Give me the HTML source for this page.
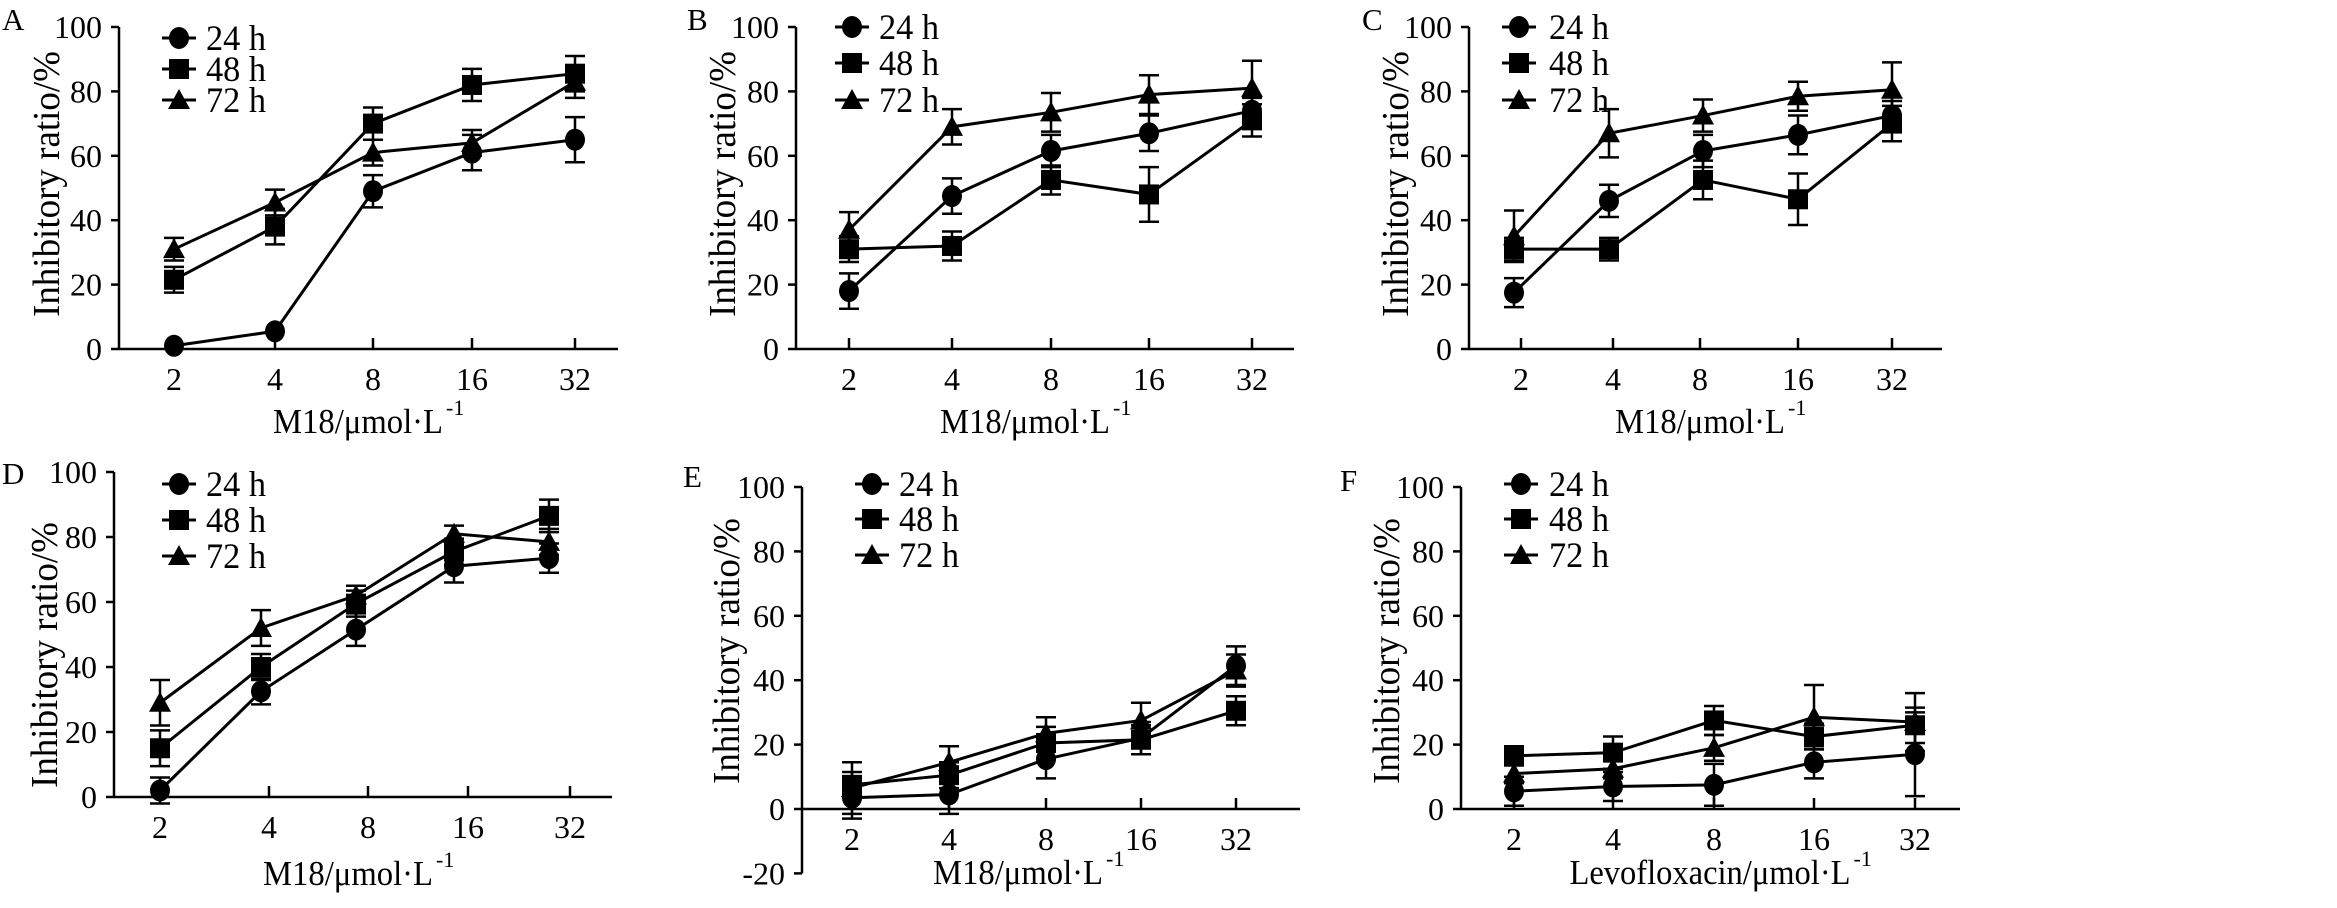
<!DOCTYPE html>
<html><head><meta charset="utf-8"><style>
html,body{margin:0;padding:0;background:#fff;}
svg, svg text{font-family:"Liberation Serif","Times New Roman","DejaVu Serif",serif;}
</style></head><body>
<svg id="fig" width="2337" height="903" viewBox="0 0 2337 903" xmlns="http://www.w3.org/2000/svg" font-family="Liberation Serif, serif"></svg>
<script>
const categories = ["2","4","8","16","32"];
const seriesNames = ["24 h","48 h","72 h"];
const yTicksMain = [0,20,40,60,80,100];
const yTicksE = [-20,0,20,40,60,80,100];

const A24 = [1,5.5,49,61,65],      A24e = [0,0,5,5.5,7];
const A48 = [21.5,38,70,82,85.5],  A48e = [4,5.5,5,5,5.5];
const A72 = [31,45.5,61,64,83],    A72e = [3.5,4,4,4,5];
const B24 = [18,47.5,61.5,67,74],  B24e = [5.5,5.5,5,5.5,4];
const B48 = [31,32,52.5,48,71],    B48e = [4,4.5,4.5,8.5,5];
const B72 = [37,69,73.5,79,81],    B72e = [5.5,5.5,6,6,8.5];
const C24 = [17.5,46,61.5,66.5,72.5], C24e = [4.5,5,5,6,4.5];
const C48 = [31,31,52.5,46.5,70],  C48e = [3.5,3.5,6,8,5.5];
const C72 = [35,67,72.5,78.5,80.5], C72e = [8,7.5,5,4.5,8.5];
const D24 = [2,32.5,51.5,71,73.5], D24e = [4,4,5,5,4.5];
const D48 = [15,40,59.5,75.5,86.5], D48e = [5.5,4,4,4,5];
const D72 = [29,52,62,81,78.5],    D72e = [7,5.5,3,2.5,4];
const E24 = [3.5,4.5,15.5,22,44.5], E24e = [6.5,6,6,5,6];
const E48 = [7.5,10.5,20.5,21.5,30.5], E48e = [4,4,5,4.5,4.5];
const E72 = [6.5,14.5,23.5,27.5,43], E72e = [8,5,5,5.5,5];
const F24 = [5.5,7,7.5,14.5,17],   F24e = [4.5,4.5,6.5,5,13];
const F48 = [16.5,17.5,27.5,22.5,26], F48e = [3,5,4.5,4,5.5];
const F72 = [11,12.5,19,28.5,27],  F72e = [3,3,4,10,9];

const NS="http://www.w3.org/2000/svg";
const FONT="Liberation Serif, Times New Roman, DejaVu Serif, serif";
const svg=document.getElementById('fig');
function mk(tag,attrs,parent){const e=document.createElementNS(NS,tag);for(const k in attrs)e.setAttribute(k,attrs[k]);if(tag==='text')e.setAttribute('font-family',FONT);(parent||svg).appendChild(e);return e;}

const panels=[
 {id:"a",label:"A",lx:2,ly:30,ax:119,x1:618,y0:349,y100:27,ymin:0,ticks:yTicksMain,cx:[174,275,373,472,575],px:[174,275,373,472,575],
  leg:{mx:179,tx:206,ys:[38,69,100]},title:"M18/μmol·L",tx:358,tyb:433,tw:170,ytx:47,yty:184,data:[[A24,A24e],[A48,A48e],[A72,A72e]]},
 {id:"b",label:"B",lx:687,ly:30,ax:796,x1:1294,y0:349,y100:27,ymin:0,ticks:yTicksMain,cx:[849,952,1051,1149,1252],px:[849,952,1051,1149,1252],
  leg:{mx:852,tx:879,ys:[27,63,100]},title:"M18/μmol·L",tx:1025,tyb:433,tw:170,ytx:723,yty:184,data:[[B24,B24e],[B48,B48e],[B72,B72e]]},
 {id:"c",label:"C",lx:1362,ly:30,ax:1469,x1:1942,y0:349,y100:27,ymin:0,ticks:yTicksMain,cx:[1521,1613,1700,1798,1892],px:[1514,1609,1703,1798,1892],
  leg:{mx:1519,tx:1549,ys:[27,63,100]},title:"M18/μmol·L",tx:1700,tyb:433,tw:170,ytx:1396,yty:184,data:[[C24,C24e],[C48,C48e],[C72,C72e]]},
 {id:"d",label:"D",lx:2,ly:484,ax:114,x1:612,y0:797,y100:472,ymin:0,ticks:yTicksMain,cx:[160,269,368,468,570],px:[160,261,356,454,549],
  leg:{mx:179,tx:206,ys:[484,520,556]},title:"M18/μmol·L",tx:348,tyb:885,tw:170,ytx:45,yty:655,data:[[D24,D24e],[D48,D48e],[D72,D72e]]},
 {id:"e",label:"E",lx:683,ly:487,ax:802,x1:1300,y0:809,y100:487,ymin:-20,ticks:yTicksE,cx:[852,949,1046,1141,1236],px:[852,949,1046,1141,1236],
  leg:{mx:872,tx:899,ys:[484,519,555]},title:"M18/μmol·L",tx:1018,tyb:884,tw:170,ytx:727,yty:651,data:[[E24,E24e],[E48,E48e],[E72,E72e]]},
 {id:"f",label:"F",lx:1340,ly:491,ax:1461,x1:1960,y0:809,y100:487,ymin:0,ticks:yTicksMain,cx:[1514,1613,1714,1814,1915],px:[1514,1613,1714,1814,1915],
  leg:{mx:1521,tx:1549,ys:[484,519,555]},title:"Levofloxacin/μmol·L",tx:1710,tyb:884,tw:281,ytx:1387,yty:651,data:[[F24,F24e],[F48,F48e],[F72,F72e]]}
];

function marker(g,type,x,y){
  let e;
  if(type===0){e=mk('ellipse',{cx:x,cy:y,rx:10,ry:11,fill:'#000'},g);}
  else if(type===1){e=mk('rect',{x:x-10,y:y-10,width:20,height:20,fill:'#000'},g);}
  else {e=mk('polygon',{points:`${x},${y-11} ${x+11},${y+9} ${x-11},${y+9}`,fill:'#000'},g);}
  
  
}

panels.forEach(p=>{
  const g=mk('g',{});
  
  
  const unit=(p.y0-p.y100)/100;
  const ys=v=>p.y0-v*unit;
  const yBottom=ys(p.ymin);
  const lab=mk('text',{x:p.lx,y:p.ly,'font-size':31},g);lab.textContent=p.label;
  
  
  const yaxis=mk('line',{x1:p.ax,y1:p.y100,x2:p.ax,y2:yBottom,stroke:'#000','stroke-width':2.5},g);
  
  
  const xaxis=mk('line',{x1:p.ax,y1:p.y0,x2:p.x1,y2:p.y0,stroke:'#000','stroke-width':2.5},g);
  
  
  p.ticks.forEach(t=>{
    const y=ys(t);
    mk('line',{x1:p.ax-8,y1:y,x2:p.ax,y2:y,stroke:'#000','stroke-width':2.5},g);
    const tl=mk('text',{x:p.ax-17,y:y+11,'font-size':32,'text-anchor':'end'},g);
    tl.textContent=String(t);
    
    
  });
  categories.forEach((c,i)=>{
    const x=p.cx[i];
    mk('line',{x1:x,y1:p.y0-11,x2:x,y2:p.y0,stroke:'#000','stroke-width':2.5},g);
    const tl=mk('text',{x:x,y:p.y0+41,'font-size':32,'text-anchor':'middle'},g);
    tl.textContent=c;
    
    
  });
  const xt=mk('text',{x:p.tx-p.tw/2,y:p.tyb,'font-size':35,textLength:p.tw,lengthAdjust:'spacingAndGlyphs'},g);
  xt.textContent=p.title;
  
  
  const sup=mk('text',{x:p.tx+p.tw/2+3,y:p.tyb-18,'font-size':22},g);
  sup.textContent='-1';
  
  
  const yt=mk('text',{x:0,y:0,'font-size':38,'text-anchor':'middle',textLength:266,lengthAdjust:'spacingAndGlyphs',transform:`translate(${p.ytx+12},${p.yty}) rotate(-90)`},g);
  yt.textContent='Inhibitory ratio/%';
  
  
  p.data.forEach((sd,si)=>{
    const vals=sd[0],errs=sd[1];
    const sg=mk('g',{},g);
    
    
    const pts=vals.map((v,i)=>p.px[i]+','+ys(v)).join(' ');
    const pl=mk('polyline',{points:pts,fill:'none',stroke:'#000','stroke-width':3},sg);
    
    
    vals.forEach((v,i)=>{
      const x=p.px[i],e=errs[i];
      if(e>0){
        const eb=mk('path',{d:`M${x},${ys(v+e)}V${ys(v-e)}M${x-10},${ys(v+e)}H${x+10}M${x-10},${ys(v-e)}H${x+10}`,stroke:'#000','stroke-width':2.5,fill:'none'},sg);
        
        
      }
      marker(sg,si,x,ys(v));
    });
  });
  const lg=mk('g',{},g);
  
  
  seriesNames.forEach((n,si)=>{
    const y=p.leg.ys[si];
    const le=mk('g',{},lg);
    
    
    mk('line',{x1:p.leg.mx-17,y1:y,x2:p.leg.mx+17,y2:y,stroke:'#000','stroke-width':3},le);
    marker(le,si,p.leg.mx,y);
    const t=mk('text',{x:p.leg.tx,y:y+12,'font-size':36,textLength:60,lengthAdjust:'spacingAndGlyphs'},le);
    t.textContent=n;
  });
});
</script>
</body></html>
